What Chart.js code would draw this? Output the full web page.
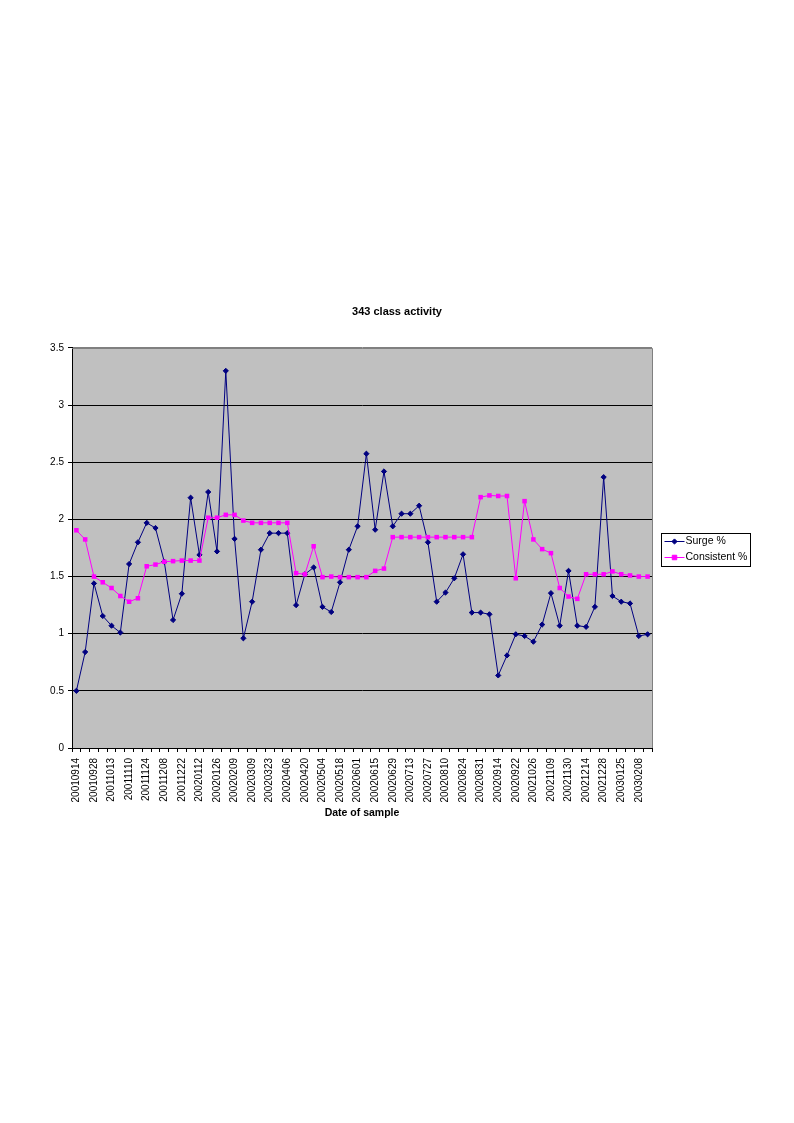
<!DOCTYPE html>
<html>
<head>
<meta charset="utf-8">
<title>343 class activity</title>
<script src="https://cdn.jsdelivr.net/npm/chart.js@4"></script>
<style>
    html, body { margin: 0; padding: 0; background: #ffffff; }
    canvas { display: block; }
</style>
</head>
<body>
<canvas id="class-activity-chart" width="794" height="1123"></canvas>
<script>
const sampleDates = [
    '20010914', '20010921', '20010928', '20011006', '20011013', '20011103',
    '20011110', '20011117', '20011124', '20011201', '20011208', '20011215',
    '20011222', '20020105', '20020112', '20020119', '20020126', '20020202',
    '20020209', '20020302', '20020309', '20020316', '20020323', '20020330',
    '20020406', '20020413', '20020420', '20020427', '20020504', '20020511',
    '20020518', '20020525', '20020601', '20020608', '20020615', '20020622',
    '20020629', '20020706', '20020713', '20020720', '20020727', '20020803',
    '20020810', '20020817', '20020824', '20020827', '20020831', '20020907',
    '20020914', '20020921', '20020922', '20021019', '20021026', '20021102',
    '20021109', '20021123', '20021130', '20021207', '20021214', '20021221',
    '20021228', '20030118', '20030125', '20030201', '20030208', '20030215'
];

const surgePercent = [
    0.50, 0.84, 1.44, 1.155, 1.07, 1.01, 1.61, 1.80, 1.97, 1.925,
    1.63, 1.12, 1.35, 2.19, 1.69, 2.24, 1.72, 3.30, 1.83, 0.96,
    1.28, 1.735, 1.88, 1.88, 1.88, 1.25, 1.52, 1.58, 1.235, 1.19,
    1.45, 1.735, 1.94, 2.575, 1.91, 2.42, 1.94, 2.05, 2.05, 2.12,
    1.80, 1.28, 1.36, 1.485, 1.695, 1.185, 1.185, 1.17, 0.635, 0.81,
    0.995, 0.98, 0.93, 1.08, 1.355, 1.07, 1.55, 1.07, 1.06, 1.235,
    2.37, 1.33, 1.28, 1.265, 0.98, 0.995
];

const consistentPercent = [
    1.905, 1.825, 1.50, 1.45, 1.40, 1.33, 1.28, 1.31, 1.59, 1.605,
    1.63, 1.635, 1.64, 1.64, 1.64, 2.015, 2.015, 2.04, 2.04, 1.99,
    1.97, 1.97, 1.97, 1.97, 1.97, 1.53, 1.52, 1.765, 1.495, 1.50,
    1.495, 1.495, 1.495, 1.495, 1.55, 1.57, 1.845, 1.845, 1.845, 1.845,
    1.845, 1.845, 1.845, 1.845, 1.845, 1.845, 2.195, 2.21, 2.205, 2.205,
    1.485, 2.16, 1.825, 1.74, 1.705, 1.40, 1.325, 1.305, 1.52, 1.52,
    1.52, 1.545, 1.52, 1.51, 1.50, 1.50
];

const seriesNames = ['Surge %', 'Consistent %'];
const yMin = 0;
const yMax = 3.5;
const yStep = 0.5;

const FONT = '"Liberation Sans", Arial, sans-serif';

// grey plot area, then its grey top and right edge
const plotAreaPlugin = {
    id: 'plotArea',
    beforeDraw(chart) {
        const {ctx, chartArea} = chart;
        ctx.save();
        ctx.fillStyle = '#c0c0c0';
        ctx.fillRect(chartArea.left, chartArea.top, chartArea.width, chartArea.height);
        ctx.restore();
    },
    beforeDatasetsDraw(chart) {
        const {ctx, chartArea} = chart;
        ctx.save();
        ctx.strokeStyle = '#808080';
        ctx.lineWidth = 1;
        ctx.beginPath();
        ctx.moveTo(chartArea.left, chartArea.top + 0.5);
        ctx.lineTo(chartArea.right + 0.5, chartArea.top + 0.5);
        ctx.lineTo(chartArea.right + 0.5, chartArea.bottom);
        ctx.stroke();
        ctx.restore();
    }
};

// boxed legend to the right of the plot, like the spreadsheet one
const boxedLegendPlugin = {
    id: 'boxedLegend',
    afterDraw(chart) {
        const {ctx} = chart;
        const box = {x: 661.5, y: 533.5, w: 89, h: 33};
        ctx.save();
        ctx.fillStyle = '#ffffff';
        ctx.fillRect(box.x, box.y, box.w, box.h);
        ctx.strokeStyle = '#000000';
        ctx.lineWidth = 1;
        ctx.strokeRect(box.x, box.y, box.w, box.h);

        chart.data.datasets.forEach((dataset, i) => {
            const y = box.y + 8 + i * 16;
            ctx.strokeStyle = dataset.borderColor;
            ctx.lineWidth = 1;
            ctx.beginPath();
            ctx.moveTo(box.x + 3, y);
            ctx.lineTo(box.x + 23, y);
            ctx.stroke();
            ctx.fillStyle = dataset.backgroundColor;
            ctx.strokeStyle = dataset.borderColor;
            Chart.helpers.drawPoint(ctx, {
                pointStyle: dataset.pointStyle,
                radius: dataset.pointRadius,
                borderWidth: 1,
                rotation: 0
            }, box.x + 13, y);
            ctx.fillStyle = '#000000';
            ctx.font = '10.5px ' + FONT;
            ctx.textBaseline = 'middle';
            ctx.textAlign = 'left';
            ctx.fillText(dataset.label, box.x + 24, y);
        });
        ctx.restore();
    }
};

const ctx = document.getElementById('class-activity-chart');

const data = {
    labels: sampleDates,
    datasets: [
        {
            label: seriesNames[0],
            data: surgePercent,
            borderColor: '#000080',
            backgroundColor: '#000080',
            borderWidth: 1,
            pointStyle: 'rectRot',
            pointRadius: 2.6,
            pointBorderWidth: 1,
            tension: 0,
            order: 1
        },
        {
            label: seriesNames[1],
            data: consistentPercent,
            borderColor: '#ff00ff',
            backgroundColor: '#ff00ff',
            borderWidth: 1,
            pointStyle: 'rect',
            pointRadius: 3.2,
            pointBorderWidth: 0,
            tension: 0,
            order: 0
        }
    ]
};

const config = {
    type: 'line',
    data: data,
    plugins: [plotAreaPlugin, boxedLegendPlugin],
    options: {
        responsive: false,
        devicePixelRatio: 1,
        animation: false,
        layout: {
            padding: {left: 0, right: 0, top: 0, bottom: 304}
        },
        plugins: {
            legend: {display: false},
            tooltip: {enabled: false},
            title: {
                display: true,
                text: '343 class activity',
                color: '#000000',
                font: {family: FONT, size: 11, weight: 'bold'},
                padding: {top: 305.4, bottom: 29.4}
            }
        },
        scales: {
            x: {
                type: 'category',
                offset: true,
                grid: {
                    offset: true,
                    drawOnChartArea: false,
                    drawTicks: true,
                    tickLength: 4,
                    color: '#000000'
                },
                border: {color: '#000000', width: 1},
                ticks: {
                    autoSkip: false,
                    minRotation: 90,
                    maxRotation: 90,
                    padding: 6,
                    color: '#000000',
                    font: {family: FONT, size: 10},
                    callback: function(value, index) {
                        return index % 2 === 0 ? sampleDates[index] : '';
                    }
                },
                title: {
                    display: true,
                    text: 'Date of sample',
                    color: '#000000',
                    font: {family: FONT, size: 10.5, weight: 'bold'},
                    padding: 0
                },
                afterFit: function(scale) {
                    scale.height = 71;
                }
            },
            y: {
                min: yMin,
                max: yMax,
                grid: {
                    color: function(context) {
                        return context.tick && context.tick.value === yMax ? '#808080' : '#000000';
                    },
                    tickColor: '#000000',
                    tickLength: 4,
                    drawTicks: true
                },
                border: {color: '#000000', width: 1},
                ticks: {
                    stepSize: yStep,
                    padding: 4,
                    color: '#000000',
                    font: {family: FONT, size: 10},
                    callback: function(value) {
                        return String(value);
                    }
                },
                afterFit: function(scale) {
                    scale.width = 72;
                }
            },
            // empty right-hand axis that keeps room for the legend box
            legendSpace: {
                type: 'linear',
                position: 'right',
                display: true,
                grid: {display: false, drawTicks: false},
                border: {display: false},
                ticks: {display: false},
                afterFit: function(scale) {
                    scale.width = 142;
                }
            }
        }
    }
};

new Chart(ctx, config);
</script>
</body>
</html>
